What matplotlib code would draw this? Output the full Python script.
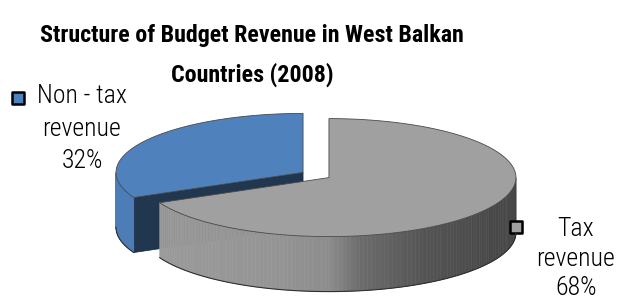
import numpy as np
import matplotlib
matplotlib.use("Agg")
import matplotlib.pyplot as plt
from matplotlib.collections import PolyCollection
from matplotlib import font_manager

# --- data ---
categories = ["Tax\nrevenue", "Non - tax\nrevenue"]
shares = [68, 32]
top_colors = ["#a0a0a0", "#4f81bd"]
title_lines = ["Structure of Budget Revenue in West Balkan", "Countries (2008)"]

# --- 3d pie layout (pixel units, y pointing down) ---
CX, CY = 316, 175
RX, RY = 187, 59
DEPTH = 55
EXPLODE = 0.082


def point(cx, cy, theta, r=1.0, z=0.0):
    t = np.radians(theta)
    return cx + r * RX * np.sin(t), cy - r * RY * np.cos(t) + z * DEPTH


def shade(rgb, theta):
    # wall gets darker towards the right
    s = np.sin(np.radians(theta))
    f = np.interp(s, [-1, -0.3, 0, 0.16, 0.5, 1], [0.97, 0.93, 0.88, 0.68, 0.53, 0.43])
    return tuple(np.clip(np.array(rgb) * f, 0, 1))


fig = plt.figure(figsize=(6.19, 3.04), dpi=100)
ax = fig.add_axes([0, 0, 1, 1])
ax.set_xlim(0, 619)
ax.set_ylim(304, 0)
ax.axis("off")

total = sum(shares)
bounds = np.concatenate([[0], np.cumsum(shares)]) / total * 360
slices = []
for i in range(len(shares)):
    a, b = bounds[i], bounds[i + 1]
    m = (a + b) / 2
    cx = CX + EXPLODE * RX * np.sin(np.radians(m))
    cy = CY - EXPLODE * RY * np.cos(np.radians(m))
    slices.append((i, a, b, m, cx, cy))

# back slices first
slices.sort(key=lambda s: -np.cos(np.radians(s[3])))

for i, a, b, m, cx, cy in slices:
    rgb = matplotlib.colors.to_rgb(top_colors[i])
    dark = tuple(np.array(rgb) * 0.42)

    # cut faces
    for ang, visible in ((a, np.sin(np.radians(a)) < -1e-6), (b, np.sin(np.radians(b)) > 1e-6)):
        if visible:
            p0 = point(cx, cy, ang, 0)
            p1 = point(cx, cy, ang, 1)
            p2 = point(cx, cy, ang, 1, 1)
            p3 = point(cx, cy, ang, 0, 1)
            xs, ys = zip(p0, p1, p2, p3)
            ax.fill(xs, ys, color=dark, lw=0.5, ec="#1a2a40")

    # outer wall (front half only)
    lo, hi = max(a, 90), min(b, 270)
    if hi > lo:
        th = np.linspace(lo, hi, 120)
        quads, cols = [], []
        for t0, t1 in zip(th[:-1], th[1:]):
            quads.append([point(cx, cy, t0), point(cx, cy, t1),
                          point(cx, cy, t1, 1, 1), point(cx, cy, t0, 1, 1)])
            cols.append(shade(rgb, (t0 + t1) / 2))
        ax.add_collection(PolyCollection(quads, facecolors=cols, edgecolors=cols, linewidths=0.4))
        xb, yb = point(cx, cy, th, 1, 1)
        ax.plot(xb, yb, color="#303030", lw=0.8)

    # top face
    th = np.linspace(a, b, 200)
    xs, ys = point(cx, cy, th)
    xs = np.concatenate([[cx], xs])
    ys = np.concatenate([[cy], ys])
    ax.fill(xs, ys, color=rgb, ec="#4a4a4a", lw=0.6)

# condensed fonts if available
names = {f.name for f in font_manager.fontManager.ttflist}
cond_font = [f for f in ["Roboto Condensed", "Liberation Sans Narrow", "Liberation Sans"] if f in names]
cond_font += ["DejaVu Sans"]

# --- labels ---
label_pos = {0: (576, 217), 1: (82, 84)}
label_spacing = {0: 1.3, 1: 1.45}
key_pos = {0: (516, 227), 1: (18, 98)}
for i, name in enumerate(categories):
    txt = f"{name}\n{shares[i] / total * 100:.0f}%"
    x, y = label_pos[i]
    ax.text(x, y, txt, ha="center", va="top", fontsize=18.5, family=cond_font,
            fontweight="light", color="black", linespacing=label_spacing[i])
    kx, ky = key_pos[i]
    ax.scatter([kx], [ky], marker="s", s=70, c=[top_colors[i]], edgecolors="black", linewidths=1.8)

# --- title, sized to the original width ---
title_texts = []
for line, base_y in zip(title_lines, (42, 82)):
    title_texts.append(ax.text(252, base_y, line, ha="center", va="baseline", fontsize=16,
                               fontweight="bold", family=cond_font))
fig.canvas.draw()
w = title_texts[0].get_window_extent().width
for t in title_texts:
    t.set_fontsize(16 * 425 / w)

fig.savefig("out.png", dpi=100)
